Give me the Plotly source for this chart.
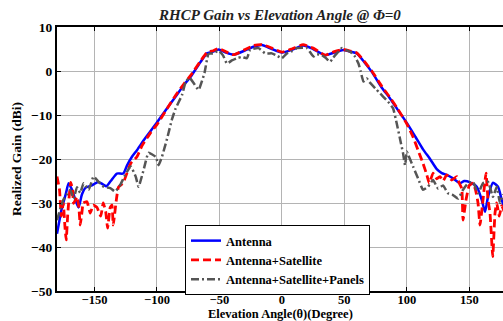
import plotly.graph_objects as go

# Realized RHCP gain (dBi) versus elevation angle theta (deg), phi = 0
theta_ant = [-180, -176, -173, -170.7, -168, -165, -162.7, -160, -157, -152, -147, -143,
             -140.5, -137, -132, -127, -124, -120, -116, -110, -100, -92, -85, -78, -73,
             -65, -60, -55, -50.7, -45, -38.7, -30, -22.7, -16, -8, 0, 8, 17, 25, 34.6,
             42, 49, 55, 60, 66, 72, 80, 86, 92, 100, 107, 113, 118.6, 124, 128, 132,
             137, 142.6, 146, 150.6, 156, 160, 162.6, 165, 169, 173, 176, 178]
gain_ant = [-37, -31, -28, -25.5, -27, -29.5, -31, -28, -26.5, -26, -25.2, -25.8,
            -26.2, -25, -23.3, -23.3, -21.5, -19.5, -18, -15.5, -11.7, -8.5, -5.8, -3, -1.3,
            2.1, 4.0, 4.4, 4.9, 4.2, 3.7, 4.6, 5.5, 5.9, 5.0, 4.2, 4.8, 5.8, 5.0, 3.6,
            4.2, 4.8, 4.4, 4.0, 2.0, -0.2, -3.8, -6, -8.5, -11.8, -15, -17.8, -20.0, -22.3, -23.2, -23.6,
            -24.4, -25.5, -25, -25.3, -26.3, -29.3, -32, -28.6, -25.4, -26.3, -29.3, -31]

theta_sat = [-180, -178, -176.5, -175, -173.5, -172.6, -171.5, -170.7, -169, -167.5, -166.7,
             -164, -162.5, -161.4, -160, -159, -156, -153.4, -151, -148, -145, -143, -141,
             -139.5, -137.4, -136, -135, -132.6, -130.8, -127, -121, -116, -112, -105, -100,
             -92, -85, -78, -73, -65, -60, -55, -50.7, -45, -38.7, -30, -22.7, -16, -8, 0,
             8, 17, 25, 34.6, 42, 49, 55, 60, 66, 72, 80, 86, 92, 100, 105, 109, 113, 116,
             118, 121, 124, 126.6, 129, 132, 136, 140, 142, 144, 145, 147.4, 150, 153, 155,
             157, 158.6, 161, 163.4, 165, 166.6, 168.8, 170.6, 172, 174, 176, 178]
gain_sat = [-24, -27, -33, -30, -36, -38.4, -33, -30, -25.3, -27, -30.1,
            -28.6, -31, -35, -32, -30, -29.7, -32.3, -30.5, -31, -33, -30, -32,
            -35.7, -31, -30.5, -35, -29.5, -26.4, -25.4, -21, -19.5, -17, -14, -12.2,
            -8.6, -5.5, -2.8, -1.0, 2.3, 4.2, 4.6, 5.1, 4.4, 3.7, 4.8, 5.8, 6.0, 5.2, 4.3,
            5.0, 6.0, 5.2, 3.6, 4.4, 4.9, 4.5, 4.1, 2.2, 0.0, -3.5, -5.8, -8.3, -12.0, -15, -18, -21, -23.6,
            -25.5, -23.2, -24.5, -24, -25, -23.6, -24.8, -24, -25.5, -26.7, -33.9, -29.3, -26, -25.5, -27,
            -30, -35, -29.3, -23.2, -29.3, -32.3, -42.2, -32.3, -30, -33, -30.6, -32]

theta_pan = [-180, -177, -175, -172, -169.4, -166.7, -164, -161.4, -158.7, -154.7, -150.7,
             -146.7, -142.7, -137.4, -133.4, -129.4, -125.4, -121, -117, -114.7, -110.7,
             -106.7, -101, -98.7, -96, -92, -88, -85, -80, -77, -74, -70, -66.7, -62,
             -58.7, -55, -50.7, -47, -44, -40, -36, -32, -28, -25.4, -18.7, -13.4, -8, -4,
             0, 4, 8, 12, 20, 25.3, 28, 32, 35, 38.6, 41, 44, 48, 51, 54.6, 58, 61.3, 63,
             65.3, 68, 70, 75, 78.6, 81, 85, 89, 92, 95, 97, 98.6, 100, 101, 105, 109, 113,
             117, 121, 125, 129, 133, 137, 141, 145, 149, 153, 157, 161, 165, 169, 172,
             174.6, 177]
gain_pan = [-33.9, -31, -29.3, -28, -27, -29, -26.4, -27.7, -25.5, -27, -24,
            -25.2, -26.3, -26.6, -27.4, -25.9, -23.6, -21.7, -24, -26.3, -22.5,
            -18.6, -19.5, -21.4, -19.5, -15.5, -11, -8.5, -5.5, -2.5, -1.5, -3, -4.3, -0.5,
            3.9, 4.0, 4.6, 3.5, 1.7, 2.4, 2.9, 3.2, 2.9, 4.8, 5.2, 4.0, 4.0, 3.5,
            2.9, 4.0, 4.5, 5.2, 5.2, 3.3, 3.8, 3.6, 3.0, 2.1, 3.0, 4.0, 5.2, 4.8, 4.4, 3.5, 1.7, 0,
            -2.4, -1.7, -2.5, -4, -5.1, -5.8, -7, -8.5, -12, -16, -18.7, -21.4, -18.3, -19, -21.7, -24.4, -27,
            -26.3, -24.8, -26.7, -26, -27.8, -28.2, -29, -27, -25.5, -25.2, -27.8, -25.5, -25.2, -28.6, -26.3,
            -30, -28]

series_names = ["Antenna", "Antenna+Satellite", "Antenna+Satellite+Panels"]

x_ticks = [-150, -100, -50, 0, 50, 100, 150]
y_ticks = [-50, -40, -30, -20, -10, 0, 10]

FONT = "Liberation Serif"

fig = go.Figure()
fig.add_trace(go.Scatter(
    x=theta_ant, y=gain_ant, mode="lines", name=series_names[0],
    line=dict(color="#0000ff", width=2.5, shape="spline", smoothing=0.6),
))
fig.add_trace(go.Scatter(
    x=theta_sat, y=gain_sat, mode="lines", name=series_names[1],
    line=dict(color="#ff0000", width=2.8, dash="8px,4px", shape="spline", smoothing=0.4),
))
fig.add_trace(go.Scatter(
    x=theta_pan, y=gain_pan, mode="lines", name=series_names[2],
    line=dict(color="#555555", width=2.5, dash="8px,3px,2px,3px", shape="spline", smoothing=0.4),
))

ytick_font = dict(family=FONT, size=13.5, color="black", weight="bold")
xtick_font = dict(family=FONT, size=12.5, color="black", weight="bold")
label_font = dict(family=FONT, size=13.5, color="black", weight="bold")
xlabel_font = dict(family=FONT, size=12.5, color="black", weight="bold")

fig.update_layout(
    width=503, height=321,
    margin=dict(l=57, r=0, t=27, b=30, pad=0),
    paper_bgcolor="white", plot_bgcolor="white",
    showlegend=True,
    title=dict(
        text="<b><i>RHCP Gain vs Elevation Angle @ Φ=0</i></b>",
        font=dict(family=FONT, size=15, color="#222222"),
        x=0.5, xref="paper", xanchor="center",
        y=306 / 321, yref="container", yanchor="middle",
    ),
    legend=dict(
        x=(185 - 57) / 446, y=(291 - 225) / 264, xanchor="left", yanchor="top",
        bgcolor="white", bordercolor="black", borderwidth=1,
        font=dict(family=FONT, size=12.5, color="black", weight="bold"),
        itemwidth=30, tracegroupgap=0,
    ),
    xaxis=dict(
        range=[-180, 177], tickvals=x_ticks,
        showgrid=True, gridcolor="#b4b4b4", gridwidth=1,
        zeroline=False,
        showline=True, linecolor="black", linewidth=2, mirror="ticks",
        ticks="inside", ticklen=4, tickcolor="black", tickwidth=1,
        tickfont=xtick_font, ticklabelstandoff=-4,
    ),
    yaxis=dict(
        range=[-50, 10], tickvals=y_ticks,
        showgrid=True, gridcolor="#b4b4b4", gridwidth=1,
        zeroline=False,
        showline=True, linecolor="black", linewidth=2, mirror=False,
        ticks="inside", ticklen=4, tickcolor="black", tickwidth=1,
        tickfont=ytick_font,
        title=dict(text="<b>Realized Gain (dBi)</b>", font=label_font, standoff=6),
    ),
    annotations=[dict(
        text="<b>Elevation Angle(θ)(Degree)</b>", font=xlabel_font,
        x=0.5, xref="paper", xanchor="center",
        y=(291 - 314) / 264, yref="paper", yanchor="middle",
        showarrow=False, borderpad=0,
    )],
)

fig.write_html("out.html")
